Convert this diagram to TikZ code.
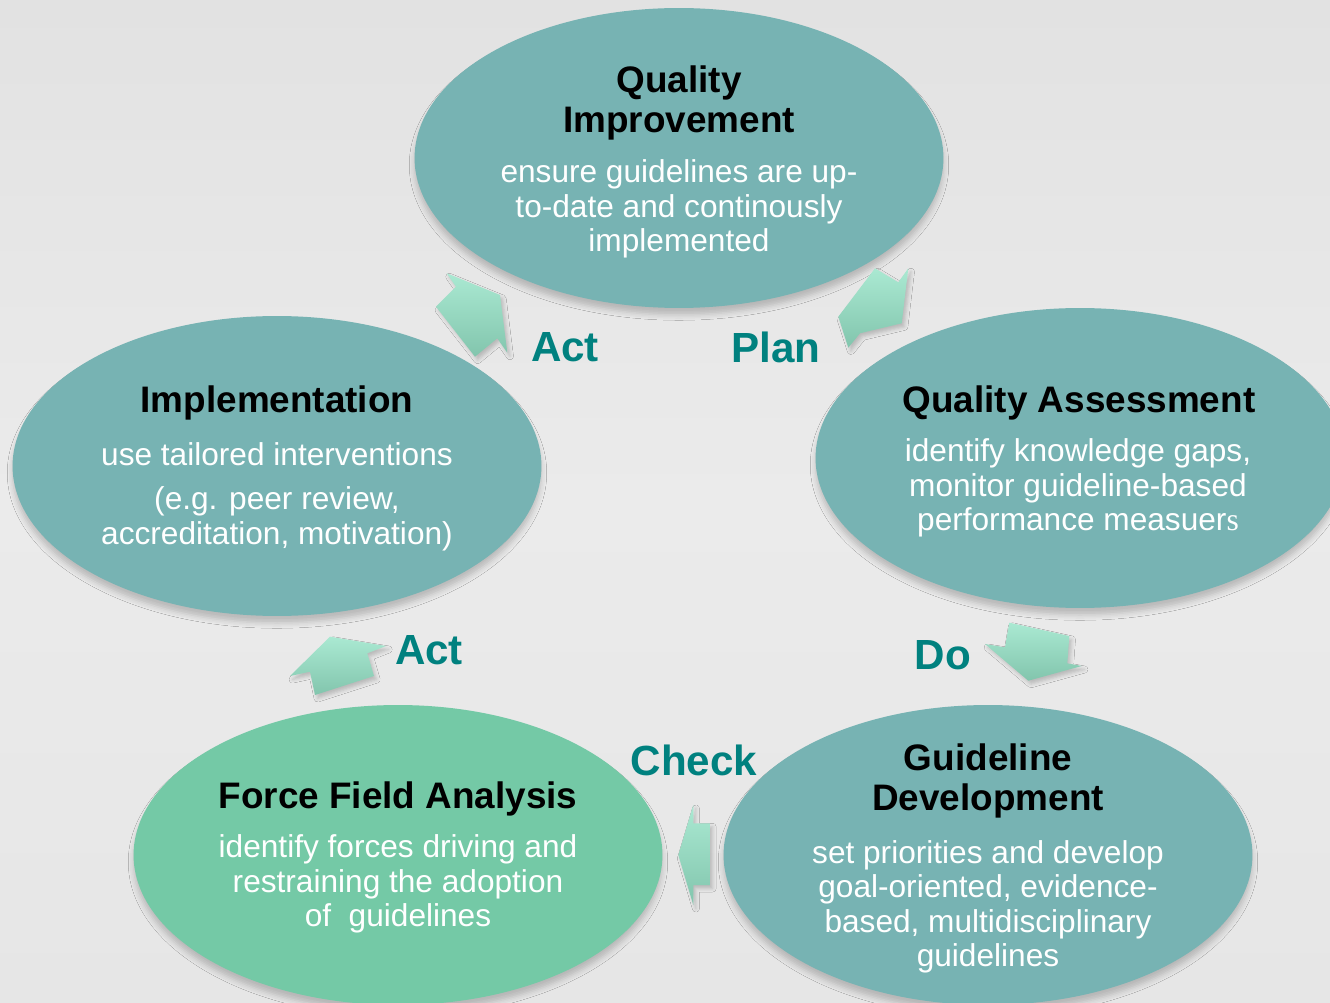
\documentclass[tikz,border=0pt]{standalone}
\usepackage{fontspec}
\setmainfont{Liberation Sans}
\newfontfamily\serifs{Liberation Serif}
\usetikzlibrary{shapes.geometric,shadows.blur}
\definecolor{bgtop}{HTML}{E2E2E2}
\definecolor{bgmid}{HTML}{EBEBEB}
\definecolor{bgbot}{HTML}{E6E6E6}
\definecolor{tealfill}{HTML}{77B3B3}
\definecolor{greenfill}{HTML}{74C9A6}
\definecolor{arrowtop}{HTML}{AAE9D2}
\definecolor{arrowbot}{HTML}{82C5AD}
\definecolor{steplabel}{HTML}{00817F}
\begin{document}
\begin{tikzpicture}[x=0.02cm,y=-0.02cm,
  phase/.style={ellipse,minimum width=10.58cm,minimum height=6cm,inner sep=0pt,
    blur shadow={shadow xshift=0pt,shadow yshift=-4pt,shadow blur radius=3pt,shadow opacity=20}},
  title/.style={align=center,font=\fontsize{21}{22.8}\selectfont\bfseries,text=black},
  body/.style={align=center,font=\fontsize{18}{19.6}\selectfont,text=white},
  cyclelabel/.style={font=\fontsize{24}{26}\selectfont\bfseries,text=steplabel},
  blockarrow/.style={top color=arrowtop,bottom color=arrowbot,
    blur shadow={shadow xshift=1.5pt,shadow yshift=-2pt,shadow blur radius=2pt,shadow opacity=20}}]
\useasboundingbox (0,0) rectangle (1330,1003);
\clip (0,0) rectangle (1330,1003);
\shade[top color=bgtop,bottom color=bgbot,middle color=bgmid] (0,0) rectangle (1330,1003);

% the five phases
\foreach \n/\x/\y/\c in {qi/679/158/tealfill,qa/1080/458/tealfill,gd/988/855/tealfill,
  ffa/398/855/greenfill,impl/277/466/tealfill}
  \node[phase,fill=\c] (\n) at (\x,\y) {};

% block arrows
\shade[blockarrow] (446.7,273.3)--(500,295)--(507.3,352.7)--(497.3,338.3)--(475,356.7)--(436,306.7)--(456,286.7)--cycle;
\shade[blockarrow] (875,268.3)--(898.3,282.3)--(908.3,268.3)--(901.7,323.3)--(860,333.3)--(848.3,347.7)--(838.3,316.7)--cycle;
\shade[blockarrow] (1009.3,622.7)--(1069.3,636)--(1067.3,663.3)--(1081.7,666)--(1028.3,680.7)--(985,644)--(1005,647.3)--cycle;
\shade[blockarrow] (693.3,805)--(693.3,823.3)--(710,823.3)--(710,885)--(693.3,885)--(693.3,905)--(678.3,855)--cycle;
\shade[blockarrow] (330,636.7)--(386,646)--(367.3,653.3)--(374,676)--(315,695)--(310,671.7)--(290,676)--cycle;

% texts
\node[title] (qit) at (679,103) {Quality\\Improvement};
\node[body] (qib) at (679,209) {ensure guidelines are up-\\to-date and continously\\implemented};
\node[title] (qat) at (1079,403) {Quality Assessment};
\node[body] (qab) at (1078,488) {identify knowledge gaps,\\monitor guideline-based\\performance measuer{\serifs s}};
\node[title] (gdt) at (988,781) {Guideline\\Development};
\node[body] (gdb) at (988,907) {set priorities and develop\\goal-oriented, evidence-\\based, multidisciplinary\\guidelines};
\node[title] (ffat) at (398,799) {Force Field Analysis};
\node[body] (ffab) at (398,884) {identify forces driving and\\restraining the adoption\\of~ guidelines};
\node[title] (implt) at (277,403) {Implementation};
\node[body] (implb) at (277,454) {use tailored interventions};
\node[body] (implc) at (277,519) {(e.g. peer review,\\accreditation, motivation)};

\node[cyclelabel] (act1) at (565,347) {Act};
\node[cyclelabel] (plan) at (776,347) {Plan};
\node[cyclelabel] (do) at (943,655) {Do};
\node[cyclelabel] (check) at (694,760) {Check};
\node[cyclelabel] (act2) at (429,650) {Act};
\end{tikzpicture}
\end{document}
